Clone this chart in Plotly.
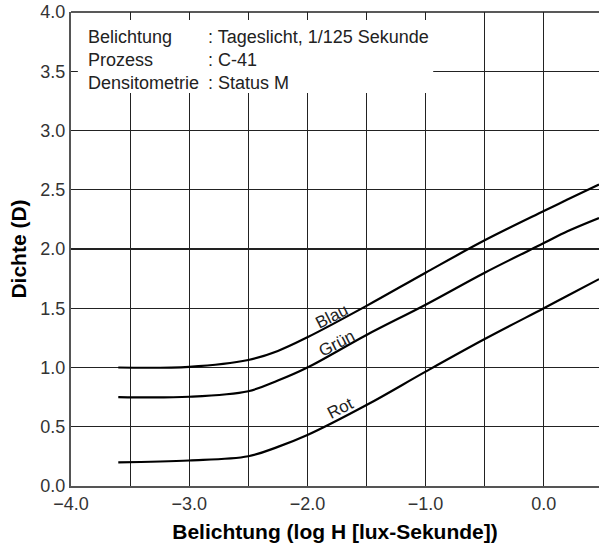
import plotly.graph_objects as go

# Data
log_h = [-3.6, -3.0, -2.5, -2.25, -2.0, -1.5, -1.0, -0.5, 0.0, 0.2, 0.467]
blau = [1.0, 1.006, 1.063, 1.14, 1.255, 1.52, 1.80, 2.073, 2.32, 2.417, 2.544]
gruen = [0.75, 0.753, 0.80, 0.89, 1.0, 1.275, 1.53, 1.80, 2.05, 2.15, 2.262]
rot = [0.20, 0.215, 0.251, 0.33, 0.43, 0.683, 0.965, 1.24, 1.50, 1.605, 1.746]

series = [("Blau", blau), ("Grün", gruen), ("Rot", rot)]
label_pos = {"Blau": (-1.794, 1.428), "Grün": (-1.752, 1.203), "Rot": (-1.724, 0.654)}

info_labels = ["Belichtung", "Prozess", "Densitometrie"]
info_values = [": Tageslicht, 1/125 Sekunde", ": C-41", ": Status M"]

x_ticks = [-4.0, -3.0, -2.0, -1.0, 0.0]
y_ticks = [0.0, 0.5, 1.0, 1.5, 2.0, 2.5, 3.0, 3.5, 4.0]

FONT = "Liberation Sans, Arial, sans-serif"

fig = go.Figure()
for name, vals in series:
    fig.add_trace(go.Scatter(
        x=log_h, y=vals, mode="lines", name=name,
        line=dict(color="black", width=2.2, shape="spline", smoothing=1.0),
        showlegend=False, hoverinfo="skip",
    ))

annotations = []
for name, _ in series:
    lx, ly = label_pos[name]
    annotations.append(dict(
        x=lx, y=ly, xref="x", yref="y", text=name, showarrow=False,
        textangle=-27, font=dict(family=FONT, size=17, color="#222"),
        xanchor="center", yanchor="middle",
    ))

row_y = [0.947, 0.899, 0.850]
for lab, val, ry in zip(info_labels, info_values, row_y):
    annotations.append(dict(x=0.0284, y=ry, xref="paper", yref="paper", text=lab,
                            showarrow=False, xanchor="left", yanchor="middle",
                            font=dict(family=FONT, size=18, color="#222")))
    annotations.append(dict(x=0.2555, y=ry, xref="paper", yref="paper", text=val,
                            showarrow=False, xanchor="left", yanchor="middle",
                            font=dict(family=FONT, size=18, color="#222")))

fig.update_layout(
    width=599, height=550,
    margin=dict(l=71, r=0, t=12, b=64),
    paper_bgcolor="white", plot_bgcolor="white",
    font=dict(family=FONT, size=18, color="#333"),
    annotations=annotations,
    shapes=[dict(type="rect", xref="paper", yref="paper",
                 x0=0.013, x1=0.686, y0=0.829, y1=0.983,
                 fillcolor="white", line=dict(width=0), layer="above")],
)

fig.update_xaxes(
    range=[-4.0, 0.467], tickvals=x_ticks, tickformat=".1f", automargin=False,
    showgrid=False, zeroline=False,
    showline=True, linecolor="#555", linewidth=2, mirror=False,
    ticks="", tickfont=dict(family=FONT, size=18, color="#333"),
    title=dict(text="<b>Belichtung (log H [lux-Sekunde])</b>",
               font=dict(family=FONT, size=21, color="black"), standoff=12),
    minor=dict(dtick=0.5, tick0=-4.0, showgrid=True, gridcolor="#222", gridwidth=1.1),
)
fig.update_yaxes(
    range=[0.0, 4.0], tickvals=y_ticks, tickformat=".1f", automargin=False,
    showgrid=True, gridcolor="#222", gridwidth=1.1, zeroline=False,
    showline=True, linecolor="#555", linewidth=2,
    ticks="", tickfont=dict(family=FONT, size=18, color="#333"),
    title=dict(text="<b>Dichte (D)</b>",
               font=dict(family=FONT, size=21, color="black"), standoff=8),
)
# top border line
fig.add_shape(type="line", xref="paper", yref="paper", x0=0, x1=1, y0=1, y1=1,
              line=dict(color="#222", width=1.5), layer="below")

fig.write_html("out.html",
               config={"displayModeBar": False, "staticPlot": True},
               post_script="document.body.style.margin='0';document.body.style.overflow='hidden';")
